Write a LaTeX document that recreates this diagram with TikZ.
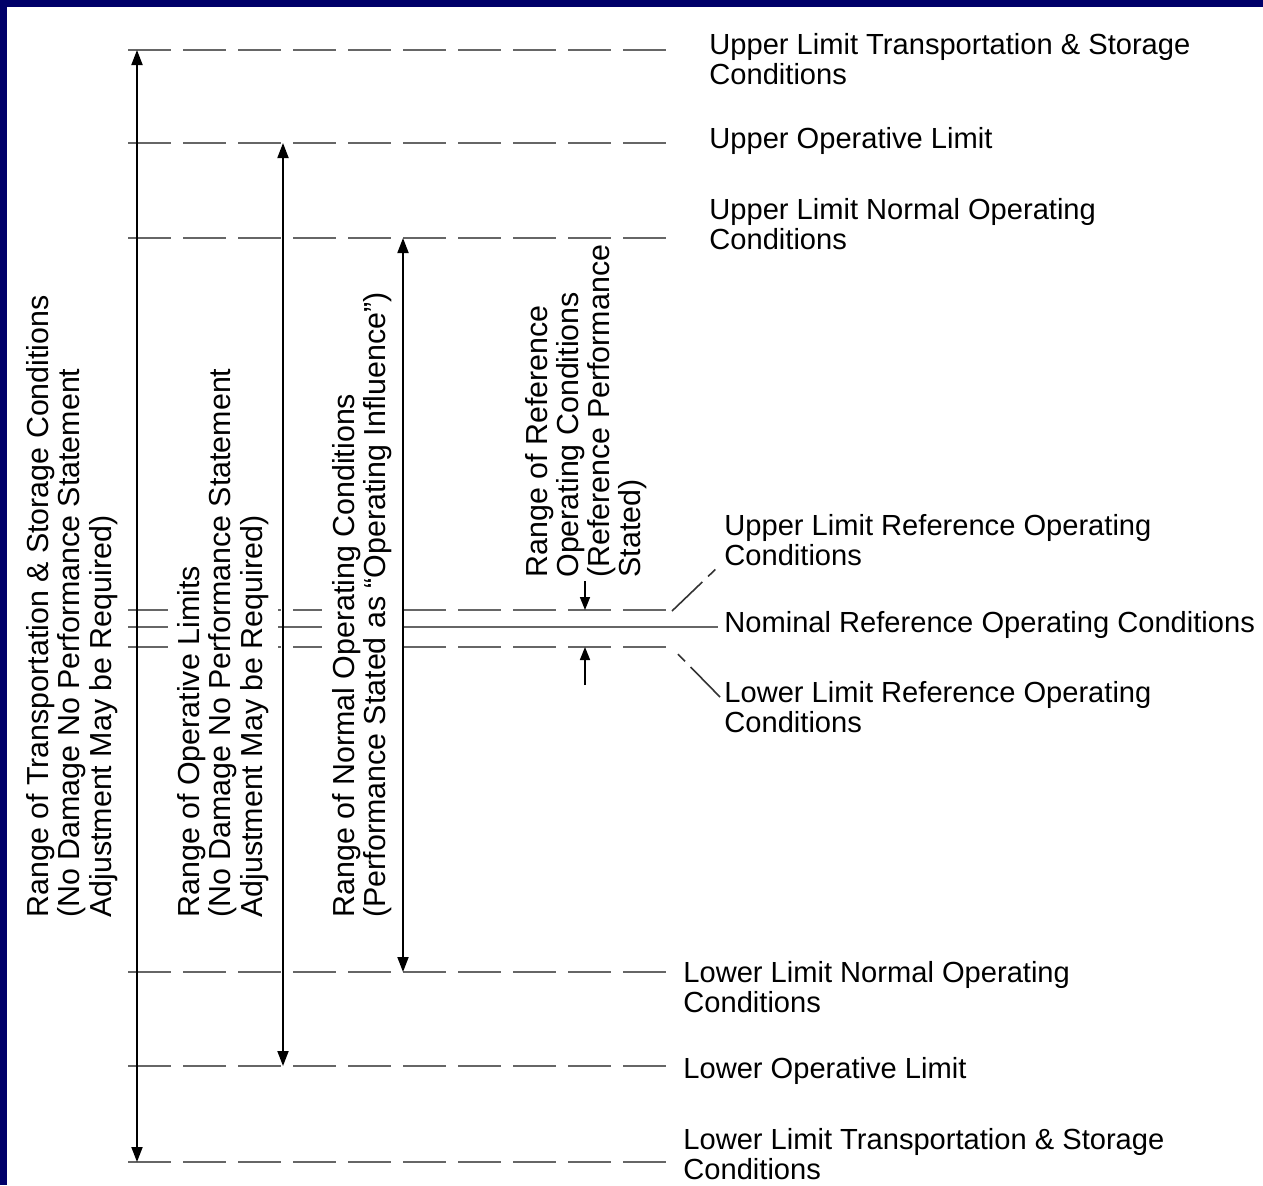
\documentclass[tikz,border=0pt]{standalone}
\usepackage{fontspec}
\setmainfont{Liberation Sans}
\usepackage{xcolor}
\usepackage{tikz}
\usetikzlibrary{arrows.meta}

\definecolor{navyframe}{RGB}{0,0,105}

\begin{document}
\begin{tikzpicture}[
    x=0.5pt, y=-0.5pt,
    % Define specific styles to match the drawing
    level_line/.style={
        draw=black!60,
        line width=1.2pt,
        dash pattern=on 21.5pt off 6pt
    },
    nominal_line/.style={
        draw=black!60,
        line width=1.2pt
    },
    span_arrow/.style={
        draw=black,
        line width=0.9pt,
        {Triangle[length=7.5pt,width=5.5pt]}-{Triangle[length=7.5pt,width=5.5pt]}
    },
    ref_arrow/.style={
        draw=black,
        line width=0.8pt,
        -{Triangle[length=6.5pt,width=5pt]}
    },
    leader/.style={
        draw=black!80,
        line width=0.8pt,
        dash pattern=on 21pt off 4pt on 5pt off 40pt
    },
    level_text/.style={
        anchor=west,
        align=left,
        inner sep=0pt,
        font=\fontsize{14.55}{15.4}\selectfont
    },
    range_text/.style={
        rotate=90,
        anchor=west,
        align=left,
        fill=white,
        inner sep=5pt,
        font=\fontsize{15.2}{15.6}\selectfont
    }
]

    % --- Frame ---
    \fill[navyframe] (0,0) rectangle (1263,1185);
    \fill[white] (7,7) rectangle (1263,1185);

    % --- Level lines ---
    \draw[level_line] (128,50) -- (668,50);
    \draw[level_line] (128,143) -- (668,143);
    \draw[level_line] (128,238) -- (668,238);
    \draw[level_line] (128,610) -- (668,610);
    \draw[nominal_line] (128,627) -- (718,627);
    \draw[level_line] (128,647) -- (668,647);
    \draw[level_line] (128,972) -- (668,972);
    \draw[level_line] (128,1066) -- (668,1066);
    \draw[level_line] (128,1162) -- (668,1162);

    % --- Level labels ---
    \node[level_text] (upts) at (709,59) {Upper Limit Transportation \& Storage\\Conditions};
    \node[level_text] (upop) at (709,141) {Upper Operative Limit};
    \node[level_text] (upnorm) at (709,224) {Upper Limit Normal Operating\\Conditions};
    \node[level_text] (upref) at (724,540) {Upper Limit Reference Operating\\Conditions};
    \node[level_text] (nomref) at (724,625) {Nominal Reference Operating Conditions};
    \node[level_text] (lowref) at (724,707) {Lower Limit Reference Operating\\Conditions};
    \node[level_text] (lownorm) at (683,987) {Lower Limit Normal Operating\\Conditions};
    \node[level_text] (lowop) at (683,1071) {Lower Operative Limit};
    \node[level_text] (lowts) at (683,1154) {Lower Limit Transportation \& Storage\\Conditions};

    % --- Leaders to the reference labels ---
    \coordinate (upleadA) at (672,611);
    \coordinate (upleadB) at (720,565);
    \coordinate (lowleadA) at (720,697);
    \coordinate (lowleadB) at (672,648);
    \draw[leader] (upleadA) -- (upleadB);
    \draw[leader] (lowleadA) -- (lowleadB);

    % --- Range labels ---
    \node[range_text] (tsrange) at (72,928) {Range of Transportation \& Storage Conditions\\(No Damage No Performance Statement\\Adjustment May be Required)};
    \node[range_text] (oprange) at (223,928) {Range of Operative Limits\\(No Damage No Performance Statement\\Adjustment May be Required)};
    \node[range_text] (normrange) at (362,928) {Range of Normal Operating Conditions\\(Performance Stated as ``Operating Influence'')};
    \node[range_text, fill=none] (refrange) at (586,588) {Range of Reference\\Operating Conditions\\(Reference Performance\\Stated)};

    % --- Range arrows ---
    \coordinate (tstop) at (137,50);
    \coordinate (tsbot) at (137,1162);
    \coordinate (optop) at (283,143);
    \coordinate (opbot) at (283,1066);
    \coordinate (normtop) at (403,238);
    \coordinate (normbot) at (403,972);
    \coordinate (reftopstart) at (585,581);
    \coordinate (reftop) at (585,610);
    \coordinate (refbotstart) at (585,685);
    \coordinate (refbot) at (585,647);

    \draw[span_arrow] (tstop) -- (tsbot);
    \draw[span_arrow] (optop) -- (opbot);
    \draw[span_arrow] (normtop) -- (normbot);
    \draw[ref_arrow] (reftopstart) -- (reftop);
    \draw[ref_arrow] (refbotstart) -- (refbot);

\end{tikzpicture}
\end{document}
